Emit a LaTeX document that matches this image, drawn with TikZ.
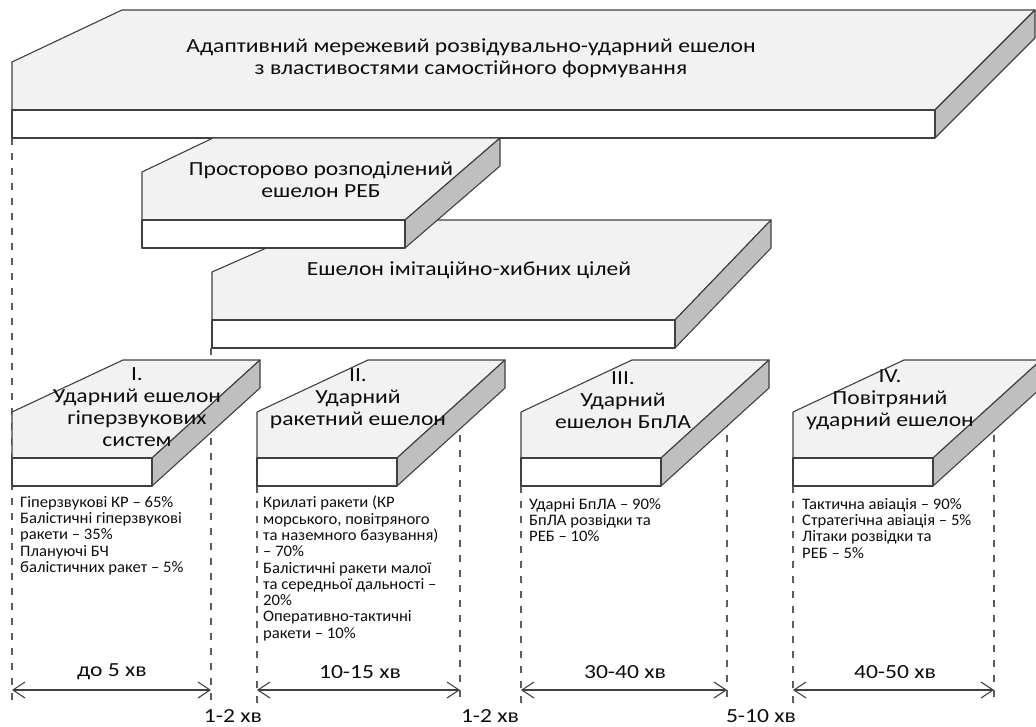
\documentclass[tikz,border=0pt]{standalone}
\usepackage{fontspec}
\setmainfont{Carlito}[FakeStretch=1.04]
\newfontfamily\hfont{Carlito}[FakeStretch=1.18]
\usetikzlibrary{arrows.meta}
\definecolor{topc}{HTML}{F2F2F2}
\definecolor{sidec}{HTML}{BFBFBF}
\definecolor{edgec}{HTML}{404040}
\definecolor{txt}{HTML}{0D0D0D}
\newcommand\myslab[8]{%
  % #1 L, #2 R, #3 front top y, #4 front bottom y, #5 cut y, #6 top-left x, #7 top y, #8 dx
  \path[topface] (#1,#3) -- (#1,#5) -- (#6,#7) -- ({#2+#8},#7) -- (#2,#3) -- cycle;
  \path[sideface] (#2,#3) -- ({#2+#8},#7) -- ({#2+#8},{#7+#4-#3}) -- (#2,#4) -- cycle;
  \path[frontface] (#1,#3) rectangle (#2,#4);
}
\begin{document}
\begin{tikzpicture}[x=1pt,y=-1pt,
  topface/.style={fill=topc,draw=edgec,line width=1.1pt,line join=round},
  sideface/.style={fill=sidec,draw=edgec,line width=1.1pt,line join=round},
  frontface/.style={fill=white,draw=edgec,line width=1.1pt,line join=round},
  guide/.style={draw=edgec!85,line width=1.2pt,dash pattern=on 7pt off 8pt},
  span/.style={draw=edgec,line width=1.1pt,{Straight Barb[length=12pt,width=16pt]}-{Straight Barb[length=12pt,width=16pt]}},
  head/.style={font=\hfont\fontsize{20}{22}\selectfont,align=center,text=txt,inner sep=0pt},
  lst/.style={font=\fontsize{16}{16.3}\selectfont,align=left,anchor=north west,text=txt,inner sep=0pt},
  lbl/.style={font=\hfont\fontsize{20}{22}\selectfont,text=txt,inner sep=0pt}
]
\useasboundingbox (0,0) rectangle (1036,727);

% guide coordinates
\coordinate (g1t) at (12,138);  \coordinate (g1b) at (12,703);
\coordinate (g2t) at (211,348); \coordinate (g2b) at (211,703);
\coordinate (g3t) at (257,486); \coordinate (g3b) at (257,703);
\coordinate (g4t) at (460,360); \coordinate (g4b) at (460,703);
\coordinate (g5t) at (521,486); \coordinate (g5b) at (521,703);
\coordinate (g6t) at (727,360); \coordinate (g6b) at (727,703);
\coordinate (g7t) at (793,486); \coordinate (g7b) at (793,703);
\coordinate (g8t) at (994,360); \coordinate (g8b) at (994,703);
\foreach \i in {1,...,8} {\draw[guide] (g\i t) -- (g\i b);}

% slabs
\myslab{12}{935}{110}{138}{62}{122}{10}{100}
\myslab{212}{675}{320}{348}{272}{330}{220}{96}
\myslab{142}{405}{220}{248}{172}{213}{138}{95}
\myslab{12}{152}{458}{486}{412}{123}{360}{108}
\myslab{257}{397}{458}{486}{412}{368}{360}{108}
\myslab{521}{661}{458}{486}{412}{632}{360}{108}
\myslab{793}{933}{458}{486}{412}{904}{360}{108}

% headers
\node[head] (h0) at (471,58) {Адаптивний мережевий розвідувально-ударний ешелон\\з властивостями самостійного формування};
\node[head] (h1) at (321,180) {Просторово розподілений\\ешелон РЕБ};
\node[head] (h2) at (469,270) {Ешелон імітаційно-хибних цілей};
\node[head] (s1) at (137,407) {I.\\Ударний ешелон\\гіперзвукових\\систем};
\node[head] (s2) at (358,399) {II.\\Ударний\\ракетний ешелон};
\node[head] (s3) at (623,400) {III.\\Ударний\\ешелон БпЛА};
\node[head] (s4) at (890,400) {IV.\\Повітряний\\ударний ешелон};

% lists
\node[lst] (l1) at (20,496) {Гіперзвукові КР – 65\%\\Балістичні гіперзвукові\\ракети – 35\%\\Плануючі БЧ\\балістичних ракет – 5\%};
\node[lst] (l2) at (263,496) {Крилаті ракети (КР\\морського, повітряного\\та наземного базування)\\– 70\%\\Балістичні ракети малої\\та середньої дальності –\\20\%\\Оперативно-тактичні\\ракети – 10\%};
\node[lst] (l3) at (529,498) {Ударні БпЛА – 90\%\\БпЛА розвідки та\\РЕБ – 10\%};
\node[lst] (l4) at (802,498) {Тактична авіація – 90\%\\Стратегічна авіація – 5\%\\Літаки розвідки та\\РЕБ – 5\%};

% spans
\coordinate (a1l) at (12,690);  \coordinate (a1r) at (211,690);
\coordinate (a2l) at (257,690); \coordinate (a2r) at (460,690);
\coordinate (a3l) at (521,690); \coordinate (a3r) at (727,690);
\coordinate (a4l) at (793,690); \coordinate (a4r) at (994,690);
\draw[span] (a1l) -- (a1r);
\draw[span] (a2l) -- (a2r);
\draw[span] (a3l) -- (a3r);
\draw[span] (a4l) -- (a4r);
\node[lbl] (t1) at (112,672) {до 5 хв};
\node[lbl] (t2) at (360,672) {10-15 хв};
\node[lbl] (t3) at (625,672) {30-40 хв};
\node[lbl] (t4) at (895,672) {40-50 хв};
\node[lbl] (p1) at (233,716) {1-2 хв};
\node[lbl] (p2) at (490,716) {1-2 хв};
\node[lbl] (p3) at (761,716) {5-10 хв};
\end{tikzpicture}
\end{document}
